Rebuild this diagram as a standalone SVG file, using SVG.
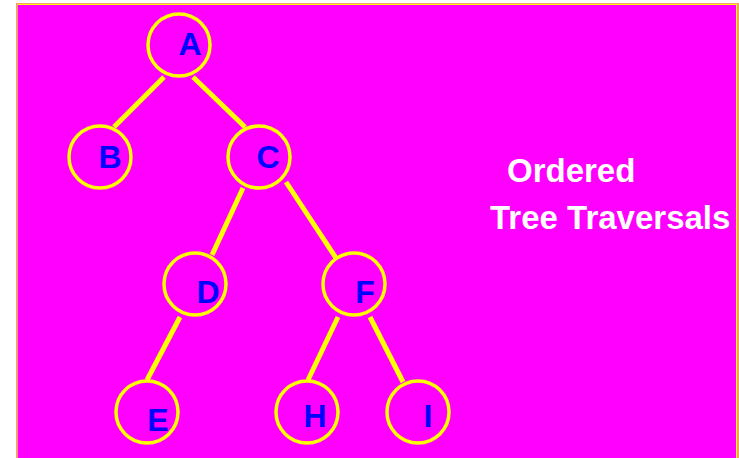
<svg xmlns="http://www.w3.org/2000/svg" width="739" height="458" viewBox="0 0 739 458">
<style>
.node circle{fill:none;stroke:#ffff00;stroke-width:3.5}
.node text{font-family:"Liberation Sans",Arial,sans-serif;font-weight:bold;font-size:32px;fill:#0000ff;text-anchor:middle}
.edge{stroke:#ffff00;stroke-width:5;fill:none}
.title{font-family:"Liberation Sans",Arial,sans-serif;font-weight:bold;font-size:33px;fill:#ffffff}
</style>
<rect x="0" y="0" width="739" height="458" fill="#ffffff"/>
<rect x="16" y="3" width="723" height="456" fill="#f4a070"/>
<rect x="18" y="4" width="719" height="455" fill="#ffff00"/>
<rect x="18" y="5" width="718" height="454" fill="#ff00ff"/>
<g id="connectors">
<line class="edge" x1="164" y1="77" x2="114" y2="127"/>
<line class="edge" x1="193" y1="77" x2="245" y2="127"/>
<line class="edge" x1="243" y1="188" x2="212" y2="255"/>
<line class="edge" x1="286" y1="182" x2="336" y2="258"/>
<line class="edge" x1="180" y1="317" x2="147" y2="380"/>
<line class="edge" x1="338" y1="317" x2="308" y2="380"/>
<line class="edge" x1="370" y1="317" x2="403" y2="382"/>
</g>
<g id="node-A" class="node"><circle cx="179" cy="45" r="31"/><text x="190" y="55">A</text></g>
<g id="node-B" class="node"><circle cx="100" cy="157" r="31"/><text x="110" y="168">B</text></g>
<g id="node-C" class="node"><circle cx="259" cy="157" r="31"/><text x="268" y="168">C</text></g>
<g id="node-D" class="node"><circle cx="195" cy="284" r="31"/><text x="208" y="303">D</text></g>
<g id="node-E" class="node"><circle cx="147" cy="412" r="31"/><text x="158" y="431">E</text></g>
<g id="node-F" class="node"><circle cx="354" cy="284" r="31"/><text x="365" y="303">F</text></g>
<g id="node-H" class="node"><circle cx="307" cy="412" r="31"/><text x="315" y="427">H</text></g>
<g id="node-I" class="node"><circle cx="418" cy="412" r="31"/><text x="428" y="427">I</text></g>
<g id="title">
<text class="title" x="507" y="182">Ordered</text>
<text class="title" x="490" y="229">Tree Traversals</text>
</g>
</svg>
